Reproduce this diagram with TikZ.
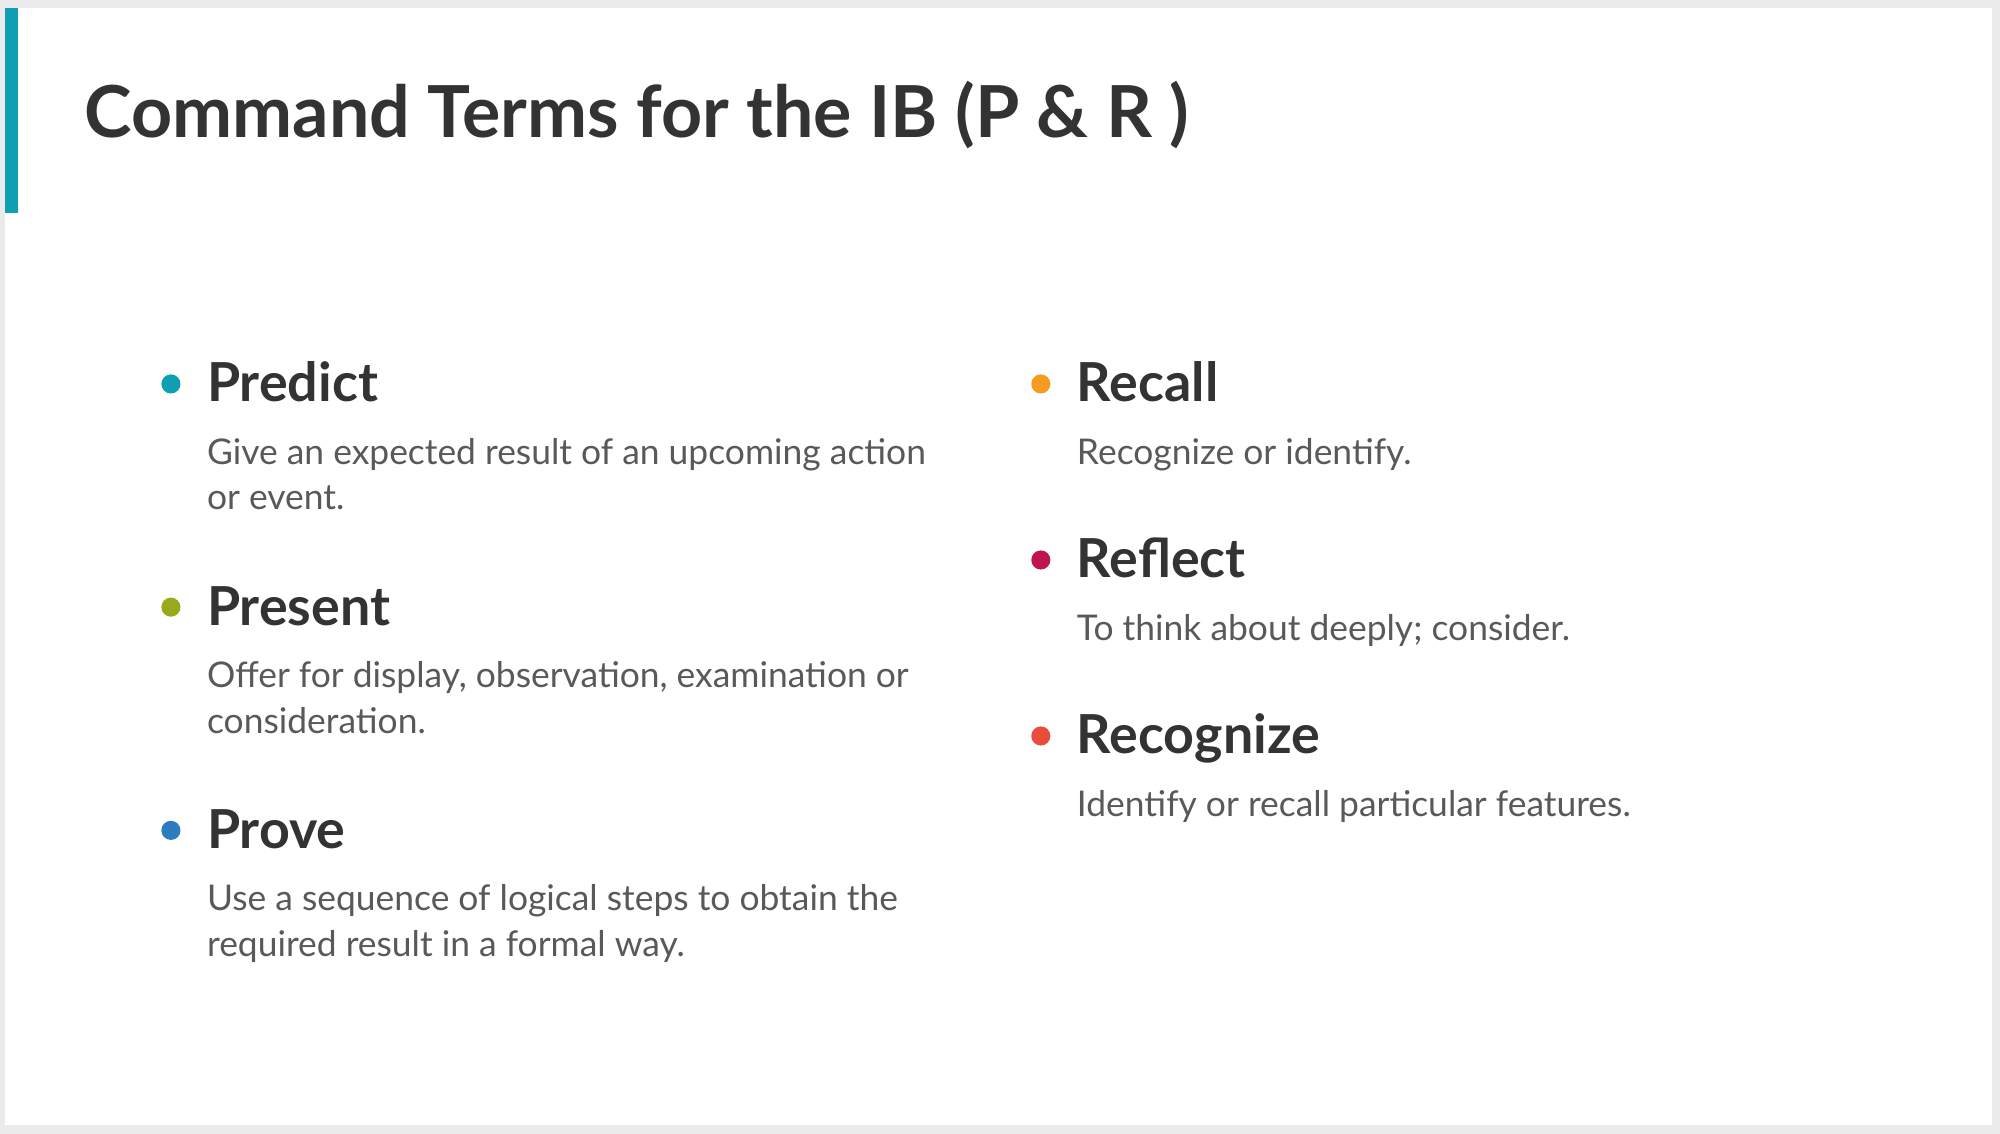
\documentclass[tikz,border=0pt]{standalone}
\usepackage{fontspec}
\setmainfont{Lato}
\usetikzlibrary{positioning}
\definecolor{frame}{HTML}{EBEBEB}
\definecolor{teal}{HTML}{0E9FB3}
\definecolor{olive}{HTML}{9AA91C}
\definecolor{blue}{HTML}{2E7BBF}
\definecolor{orange}{HTML}{F39C1F}
\definecolor{crimson}{HTML}{C0144E}
\definecolor{tomato}{HTML}{E84C3D}
\definecolor{ink}{HTML}{333333}
\definecolor{body}{HTML}{595959}
\tikzset{
  term/.style={anchor=base west, inner sep=0, font=\fontsize{24}{28}\selectfont\bfseries, text=ink},
  gloss/.style={anchor=north west, inner sep=0, align=left, font=\fontsize{15.8}{20.5}\selectfont, text=body},
  dot/.style={circle, fill=#1, minimum size=0.3cm, inner sep=0}
}
\begin{document}
\begin{tikzpicture}[x=0.02cm, y=-0.02cm]
  \useasboundingbox (0,0) rectangle (1568,889);
  \fill[frame] (0,0) rectangle (1568,889);
  \fill[white] (4,6) rectangle (1562,882);
  \fill[teal] (4,6) rectangle (14,167);

  \node[anchor=base west, inner sep=0, font=\fontsize{32}{36}\selectfont\bfseries, text=ink] (title) at (66,108) {Command Terms for the IB (P \& R )};

  % left column
  \node[dot=teal] (d1) at (134,301) {};
  \node[term] (t1) at (162,315) {Predict};
  \node[gloss] (g1) at (162,343) {Give an expected result of an upcoming action\\or event.};

  \node[dot=olive] (d2) at (134,476) {};
  \node[term] (t2) at (162,490) {Present};
  \node[gloss] (g2) at (162,518) {Offer for display, observation, examination or\\consideration.};

  \node[dot=blue] (d3) at (134,651) {};
  \node[term] (t3) at (162,665) {Prove};
  \node[gloss] (g3) at (162,693) {Use a sequence of logical steps to obtain the\\required result in a formal way.};

  % right column
  \node[dot=orange] (d4) at (816,301) {};
  \node[term] (t4) at (844,315) {Recall};
  \node[gloss] (g4) at (844,343) {Recognize or identify.};

  \node[dot=crimson] (d5) at (816,439) {};
  \node[term] (t5) at (844,453) {Reflect};
  \node[gloss] (g5) at (844,481) {To think about deeply; consider.};

  \node[dot=tomato] (d6) at (816,577) {};
  \node[term] (t6) at (844,591) {Recognize};
  \node[gloss] (g6) at (844,619) {Identify or recall particular features.};
\end{tikzpicture}
\end{document}
